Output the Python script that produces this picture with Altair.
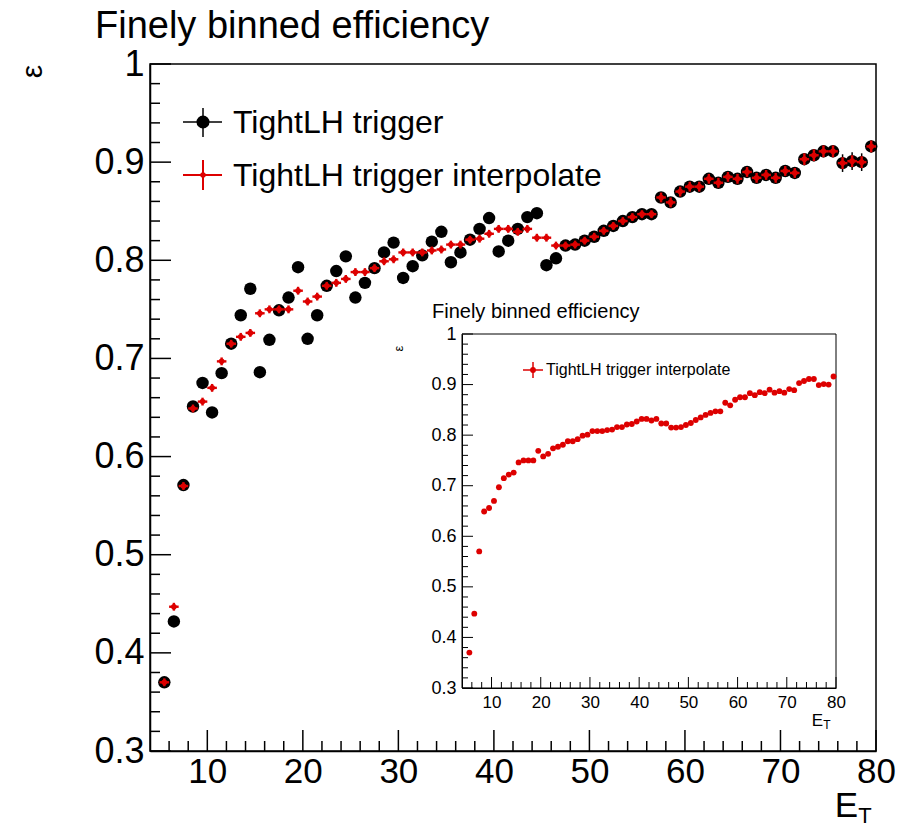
import altair as alt
import pandas as pd

FONT = "Liberation Sans"
RED = "#dd0000"

# ---------------- data ----------------
et = [5.5, 6.5, 7.5, 8.5, 9.5, 10.5, 11.5, 12.5, 13.5, 14.5,
      15.5, 16.5, 17.5, 18.5, 19.5, 20.5, 21.5, 22.5, 23.5, 24.5,
      25.5, 26.5, 27.5, 28.5, 29.5, 30.5, 31.5, 32.5, 33.5, 34.5,
      35.5, 36.5, 37.5, 38.5, 39.5, 40.5, 41.5, 42.5, 43.5, 44.5,
      45.5, 46.5, 47.5, 48.5, 49.5, 50.5, 51.5, 52.5, 53.5, 54.5,
      55.5, 56.5, 57.5, 58.5, 59.5, 60.5, 61.5, 62.5, 63.5, 64.5,
      65.5, 66.5, 67.5, 68.5, 69.5, 70.5, 71.5, 72.5, 73.5, 74.5,
      75.5, 76.5, 77.5, 78.5, 79.5]

eff_trigger = [0.370, 0.432, 0.571, 0.651, 0.675,
               0.645, 0.685, 0.715, 0.744, 0.771,
               0.686, 0.719, 0.749, 0.762, 0.793,
               0.720, 0.744, 0.774, 0.789, 0.804,
               0.762, 0.777, 0.792, 0.808, 0.818,
               0.782, 0.794, 0.805, 0.819, 0.829,
               0.798, 0.808, 0.821, 0.832, 0.843,
               0.809, 0.820, 0.832, 0.844, 0.848,
               0.795, 0.802, 0.815, 0.816, 0.820,
               0.824, 0.830, 0.835, 0.840, 0.844,
               0.847, 0.847, 0.864, 0.859, 0.870,
               0.875, 0.875, 0.883, 0.879, 0.885,
               0.883, 0.890, 0.884, 0.887, 0.884,
               0.891, 0.889, 0.903, 0.907, 0.911,
               0.911, 0.899, 0.901, 0.900, 0.916]

eff_trigger_err = [0.004, 0.004, 0.004, 0.004, 0.004,
                   0.004, 0.004, 0.004, 0.004, 0.004,
                   0.004, 0.004, 0.004, 0.004, 0.004,
                   0.004, 0.004, 0.004, 0.004, 0.004,
                   0.004, 0.004, 0.004, 0.004, 0.004,
                   0.004, 0.004, 0.004, 0.004, 0.004,
                   0.004, 0.004, 0.004, 0.004, 0.004,
                   0.004, 0.004, 0.004, 0.004, 0.004,
                   0.004, 0.004, 0.004, 0.004, 0.004,
                   0.004, 0.004, 0.004, 0.004, 0.004,
                   0.004, 0.004, 0.005, 0.005, 0.005,
                   0.005, 0.005, 0.005, 0.005, 0.005,
                   0.005, 0.005, 0.005, 0.005, 0.005,
                   0.005, 0.005, 0.006, 0.006, 0.006,
                   0.006, 0.009, 0.009, 0.009, 0.006]

eff_interp = [0.370, 0.447, 0.570, 0.649, 0.656,
              0.670, 0.697, 0.715, 0.722, 0.726,
              0.746, 0.750, 0.750, 0.750, 0.769,
              0.758, 0.763, 0.774, 0.777, 0.781,
              0.788, 0.788, 0.792, 0.799, 0.801,
              0.808, 0.808, 0.808, 0.810, 0.811,
              0.816, 0.816, 0.821, 0.822, 0.827,
              0.832, 0.832, 0.829, 0.832, 0.823,
              0.823, 0.815, 0.815, 0.816, 0.820,
              0.824, 0.830, 0.835, 0.840, 0.844,
              0.847, 0.847, 0.864, 0.859, 0.870,
              0.875, 0.875, 0.883, 0.879, 0.885,
              0.883, 0.890, 0.884, 0.887, 0.884,
              0.891, 0.889, 0.903, 0.907, 0.911,
              0.911, 0.899, 0.901, 0.900, 0.916]

eff_interp_err = [0.004, 0.004, 0.004, 0.004, 0.004,
                  0.004, 0.004, 0.004, 0.004, 0.004,
                  0.004, 0.004, 0.004, 0.004, 0.004,
                  0.004, 0.004, 0.004, 0.004, 0.004,
                  0.004, 0.004, 0.004, 0.004, 0.004,
                  0.004, 0.004, 0.004, 0.004, 0.004,
                  0.004, 0.004, 0.004, 0.004, 0.004,
                  0.004, 0.004, 0.004, 0.004, 0.004,
                  0.004, 0.004, 0.004, 0.004, 0.004,
                  0.004, 0.004, 0.004, 0.004, 0.004,
                  0.004, 0.004, 0.005, 0.005, 0.005,
                  0.005, 0.005, 0.005, 0.005, 0.005,
                  0.005, 0.005, 0.005, 0.005, 0.005,
                  0.005, 0.005, 0.006, 0.006, 0.006,
                  0.006, 0.006, 0.006, 0.006, 0.006]

x_major = [10, 20, 30, 40, 50, 60, 70, 80]
x_minor = [v for v in range(6, 80, 2) if v % 10 != 0]
y_major = [0.3, 0.4, 0.5, 0.6, 0.7, 0.8, 0.9, 1.0]
y_minor = [round(0.3 + 0.02 * i, 2) for i in range(1, 35) if i % 5 != 0]

title_text = "Finely binned efficiency"
legend_labels = ["TightLH trigger", "TightLH trigger interpolate"]

# ---------------- geometry (plot-area pixels) ----------------
W, H = 726, 687
INS_X0, INS_X1 = 312, 686
INS_Y0, INS_Y1 = 270, 624

df = pd.DataFrame({"et": et, "trig": eff_trigger, "trig_err": eff_trigger_err,
                   "interp": eff_interp, "interp_err": eff_interp_err})
one = pd.DataFrame({"k": [0]})
xmaj = pd.DataFrame({"v": x_major})
xmin = pd.DataFrame({"v": x_minor})
ymaj = pd.DataFrame({"v": y_major})
ymin = pd.DataFrame({"v": y_minor})

base = alt.Chart(df).transform_calculate(
    et_lo="datum.et - 0.5", et_hi="datum.et + 0.5",
    trig_lo="datum.trig - datum.trig_err", trig_hi="datum.trig + datum.trig_err",
    int_lo="datum.interp - datum.interp_err", int_hi="datum.interp + datum.interp_err",
)

# ---------------- main scales / axes ----------------
XS = alt.Scale(domain=[4, 80], nice=False, zero=False)
YS = alt.Scale(domain=[0.3, 1.0], nice=False, zero=False)

MAIN_X_AXIS = alt.Axis(
    values=x_major, ticks=False, grid=False, format="d", labelFlush=False,
    labelOverlap=False, labelFont=FONT, labelFontSize=35, labelColor="black",
    labelPadding=3, domainColor="black", domainWidth=1.5,
    title="E", titleFont=FONT, titleFontSize=35, titleFontWeight="normal",
    titleColor="black", titleX=696, titleY=65, titleAlign="center",
    titleBaseline="alphabetic",
)
MAIN_Y_AXIS = alt.Axis(
    values=y_major, ticks=False, grid=False, labelOverlap=False,
    labelExpr="datum.value == 1 ? '1' : format(datum.value, '.1f')",
    labelFont=FONT, labelFontSize=36, labelColor="black", labelPadding=6,
    domainColor="black", domainWidth=1.5,
    title="ε", titleFont=FONT, titleFontSize=30, titleFontWeight="normal",
    titleColor="black", titleAngle=270, titleX=-118, titleY=7,
    titleAlign="center", titleBaseline="middle",
)


def mx(f):
    return alt.X(f, type="quantitative", scale=XS, axis=MAIN_X_AXIS)


def my(f):
    return alt.Y(f, type="quantitative", scale=YS, axis=MAIN_Y_AXIS)


main_layers = [
    # main ticks (inside the frame)
    alt.Chart(xmaj).mark_rule(color="black", strokeWidth=1.5).encode(
        x=mx("v"), y=alt.value(H), y2=alt.value(H - 21)),
    alt.Chart(xmin).mark_rule(color="black", strokeWidth=1.5).encode(
        x=mx("v"), y=alt.value(H), y2=alt.value(H - 10)),
    alt.Chart(ymaj).mark_rule(color="black", strokeWidth=1.5).encode(
        y=my("v"), x=alt.value(0), x2=alt.value(21)),
    alt.Chart(ymin).mark_rule(color="black", strokeWidth=1.5).encode(
        y=my("v"), x=alt.value(0), x2=alt.value(10)),
    # black series
    base.mark_rule(color="black", strokeWidth=1.5).encode(
        x=mx("et_lo"), x2=alt.X2("et_hi"), y=my("trig")),
    base.mark_rule(color="black", strokeWidth=1.5).encode(
        x=mx("et"), y=my("trig_lo"), y2=alt.Y2("trig_hi")),
    base.mark_point(filled=True, shape="circle", size=155, color="black", opacity=1).encode(
        x=mx("et"), y=my("trig")),
    # red series
    base.mark_rule(color=RED, strokeWidth=2.4).encode(
        x=mx("et_lo"), x2=alt.X2("et_hi"), y=my("interp")),
    base.mark_rule(color=RED, strokeWidth=2.4).encode(
        x=mx("et"), y=my("int_lo"), y2=alt.Y2("int_hi")),
    base.mark_point(filled=True, shape="circle", size=32, color=RED, opacity=1).encode(
        x=mx("et"), y=my("interp")),
    # legend
    alt.Chart(one).mark_rule(color="black", strokeWidth=1.5).encode(
        x=alt.value(33), x2=alt.value(72), y=alt.value(58)),
    alt.Chart(one).mark_rule(color="black", strokeWidth=1.5).encode(
        x=alt.value(53), y=alt.value(44), y2=alt.value(73)),
    alt.Chart(one).mark_point(filled=True, shape="circle", size=170, color="black", opacity=1).encode(
        x=alt.value(53), y=alt.value(58)),
    alt.Chart(one).mark_rule(color=RED, strokeWidth=2).encode(
        x=alt.value(33), x2=alt.value(72), y=alt.value(111)),
    alt.Chart(one).mark_rule(color=RED, strokeWidth=2).encode(
        x=alt.value(53), y=alt.value(96), y2=alt.value(126)),
    alt.Chart(one).mark_point(filled=True, shape="circle", size=30, color=RED, opacity=1).encode(
        x=alt.value(53), y=alt.value(111)),
    alt.Chart(one).mark_text(font=FONT, fontSize=32, align="left", baseline="alphabetic",
                             color="black", text=legend_labels[0]).encode(
        x=alt.value(83), y=alt.value(69)),
    alt.Chart(one).mark_text(font=FONT, fontSize=32, align="left", baseline="alphabetic",
                             color="black", text=legend_labels[1]).encode(
        x=alt.value(83), y=alt.value(122)),
    # title and subscript
    alt.Chart(one).mark_text(font=FONT, fontSize=38, align="left", baseline="alphabetic",
                             color="black", text=title_text).encode(
        x=alt.value(-55), y=alt.value(-26)),
    alt.Chart(one).mark_text(font=FONT, fontSize=22, align="center", baseline="alphabetic",
                             color="black", text="T").encode(
        x=alt.value(715), y=alt.value(759)),
]
main = alt.layer(*main_layers)

# ---------------- inset ----------------
IXS = alt.Scale(domain=[4, 80], range=[INS_X0, INS_X1], nice=False, zero=False)
IYS = alt.Scale(domain=[0.3, 1.0], range=[INS_Y1, INS_Y0], nice=False, zero=False)

INS_X_AXIS = alt.Axis(
    orient="bottom", offset=-(H - INS_Y1), values=x_major, ticks=False, grid=False,
    format="d", labelFlush=False, labelOverlap=False, labelFont=FONT, labelFontSize=17,
    labelColor="black", labelPadding=6, domainColor="black", domainWidth=1,
    title="E", titleFont=FONT, titleFontSize=17, titleFontWeight="normal",
    titleColor="black", titleX=667, titleY=37, titleAlign="center",
    titleBaseline="alphabetic",
)
INS_Y_AXIS = alt.Axis(
    orient="left", offset=-INS_X0, values=y_major, ticks=False, grid=False,
    labelOverlap=False,
    labelExpr="datum.value == 1 ? '1' : format(datum.value, '.1f')",
    labelFont=FONT, labelFontSize=18, labelColor="black", labelPadding=6,
    domainColor="black", domainWidth=1,
    title="ε", titleFont=FONT, titleFontSize=13, titleFontWeight="normal",
    titleColor="black", titleAngle=270, titleX=-64, titleY=284,
    titleAlign="center", titleBaseline="middle",
)


def ix(f):
    return alt.X(f, type="quantitative", scale=IXS, axis=INS_X_AXIS)


def iy(f):
    return alt.Y(f, type="quantitative", scale=IYS, axis=INS_Y_AXIS)


inset_layers = [
    alt.Chart(one).mark_rect(fillOpacity=0, stroke="black", strokeWidth=1).encode(
        x=alt.value(INS_X0), x2=alt.value(INS_X1), y=alt.value(INS_Y0), y2=alt.value(INS_Y1)),
    alt.Chart(xmaj).mark_rule(color="black", strokeWidth=1).encode(
        x=ix("v"), y=alt.value(INS_Y1), y2=alt.value(INS_Y1 - 11)),
    alt.Chart(xmin).mark_rule(color="black", strokeWidth=1).encode(
        x=ix("v"), y=alt.value(INS_Y1), y2=alt.value(INS_Y1 - 6)),
    alt.Chart(ymaj).mark_rule(color="black", strokeWidth=1).encode(
        y=iy("v"), x=alt.value(INS_X0), x2=alt.value(INS_X0 + 11)),
    alt.Chart(ymin).mark_rule(color="black", strokeWidth=1).encode(
        y=iy("v"), x=alt.value(INS_X0), x2=alt.value(INS_X0 + 6)),
    base.mark_rule(color=RED, strokeWidth=1.2).encode(
        x=ix("et_lo"), x2=alt.X2("et_hi"), y=iy("interp")),
    base.mark_point(filled=True, shape="circle", size=34, color=RED, opacity=1).encode(
        x=ix("et"), y=iy("interp")),
    alt.Chart(one).mark_text(font=FONT, fontSize=20, align="left", baseline="alphabetic",
                             color="black", text=title_text).encode(
        x=alt.value(282), y=alt.value(254)),
    alt.Chart(one).mark_rule(color=RED, strokeWidth=1.5).encode(
        x=alt.value(373), x2=alt.value(393), y=alt.value(306)),
    alt.Chart(one).mark_rule(color=RED, strokeWidth=1.5).encode(
        x=alt.value(383), y=alt.value(298), y2=alt.value(314)),
    alt.Chart(one).mark_point(filled=True, shape="circle", size=34, color=RED, opacity=1).encode(
        x=alt.value(383), y=alt.value(306)),
    alt.Chart(one).mark_text(font=FONT, fontSize=16, align="left", baseline="middle",
                             color="black", text=legend_labels[1]).encode(
        x=alt.value(396), y=alt.value(306)),
    alt.Chart(one).mark_text(font=FONT, fontSize=12, align="center", baseline="alphabetic",
                             color="black", text="T").encode(
        x=alt.value(677), y=alt.value(665)),
]
inset = alt.layer(*inset_layers)

chart = alt.layer(main, inset).resolve_scale(
    x="independent", y="independent"
).properties(
    width=W, height=H,
    padding={"left": 150, "top": 64, "right": 31, "bottom": 81},
    autosize=alt.AutoSizeParams(type="none"),
    background="white",
).configure_view(stroke="black", strokeWidth=1.5)

chart.save("out.html", embed_options={"renderer": "svg", "actions": False})
